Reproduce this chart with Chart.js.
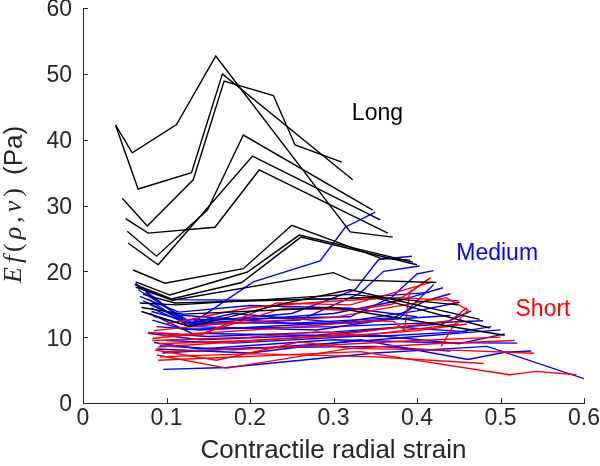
<!DOCTYPE html>
<html>
<head>
<meta charset="utf-8">
<script src="https://cdn.jsdelivr.net/npm/chart.js@4.4.1/dist/chart.umd.min.js"></script>
<style>
  html, body { margin: 0; padding: 0; background: #fff; }
</style>
</head>
<body>
<canvas id="chart" width="600" height="466"></canvas>
<script>
// Axis ticks
const xTicks = [0, 0.1, 0.2, 0.3, 0.4, 0.5, 0.6];
const xTickLabels = ['0', '0.1', '0.2', '0.3', '0.4', '0.5', '0.6'];
const yTicks = [0, 10, 20, 30, 40, 50, 60];
const yTickLabels = ['0', '10', '20', '30', '40', '50', '60'];

// Group names
const groupNames = ['Long', 'Medium', 'Short'];

// Each curve is a list of [contractile radial strain, E f(rho,v)] points
const longCurves = [
    [[0.039, 42.2], [0.059, 38.0], [0.112, 42.3], [0.159, 52.7], [0.320, 26.0], [0.371, 25.2]],
    [[0.039, 42.2], [0.066, 32.5], [0.130, 35.0], [0.167, 50.0], [0.323, 33.9]],
    [[0.047, 31.1], [0.077, 26.9], [0.132, 33.9], [0.169, 48.9], [0.228, 46.7], [0.254, 39.2], [0.310, 36.6]],
    [[0.051, 28.0], [0.078, 25.8], [0.158, 26.7], [0.211, 35.4], [0.365, 25.8]],
    [[0.053, 26.1], [0.088, 22.3], [0.149, 29.3], [0.192, 40.7], [0.347, 29.3]],
    [[0.054, 24.3], [0.090, 21.0], [0.203, 37.5], [0.356, 27.8]],
    [[0.060, 20.2], [0.098, 18.2], [0.192, 20.4], [0.250, 27.0], [0.356, 22.0], [0.392, 21.7]],
    [[0.063, 18.4], [0.104, 16.4], [0.197, 19.9], [0.259, 25.5], [0.395, 21.4]],
    [[0.062, 18.0], [0.106, 15.8], [0.190, 18.3], [0.261, 25.2], [0.400, 21.0]],
    [[0.063, 17.6], [0.107, 15.6], [0.300, 19.8], [0.320, 18.7], [0.423, 18.3]],
    [[0.068, 15.2], [0.112, 14.9], [0.320, 16.5], [0.449, 14.9]],
    [[0.070, 13.9], [0.128, 11.6], [0.244, 15.2], [0.320, 17.2], [0.475, 12.7]],
    [[0.070, 14.5], [0.120, 13.5], [0.300, 14.5], [0.505, 10.3]],
    [[0.072, 16.5], [0.110, 15.2], [0.350, 16.0], [0.487, 11.4]]
];

const mediumCurves = [
    [[0.063, 18.2], [0.128, 11.9], [0.204, 18.4], [0.284, 21.6], [0.314, 26.7], [0.350, 29.0]],
    [[0.096, 5.1], [0.172, 5.4], [0.350, 7.6], [0.484, 8.6], [0.600, 3.7]],
    [[0.088, 8.2], [0.200, 7.6], [0.332, 9.6], [0.461, 6.6], [0.505, 7.7], [0.537, 7.9]],
    [[0.085, 9.2], [0.140, 8.2], [0.300, 9.6], [0.420, 9.2], [0.520, 9.1]],
    [[0.075, 16.8], [0.125, 12.2], [0.250, 13.6], [0.326, 17.2], [0.354, 21.8], [0.394, 22.3]],
    [[0.078, 15.8], [0.125, 11.8], [0.260, 12.6], [0.332, 16.7], [0.360, 20.0], [0.403, 20.8]],
    [[0.080, 15.0], [0.130, 12.0], [0.300, 13.6], [0.380, 15.6], [0.431, 17.5]],
    [[0.082, 14.4], [0.122, 12.2], [0.300, 12.1], [0.400, 14.0], [0.451, 15.3]],
    [[0.084, 13.2], [0.130, 11.6], [0.280, 11.1], [0.370, 12.8], [0.410, 15.5], [0.440, 16.6]],
    [[0.083, 12.6], [0.120, 11.2], [0.300, 11.6], [0.479, 12.5]],
    [[0.080, 13.6], [0.130, 10.6], [0.350, 10.1], [0.450, 10.8], [0.489, 11.6]],
    [[0.065, 17.7], [0.107, 15.7], [0.200, 15.6], [0.320, 15.9], [0.415, 16.8]],
    [[0.090, 10.6], [0.150, 10.1], [0.300, 10.8], [0.430, 12.0], [0.465, 14.0]],
    [[0.100, 9.5], [0.180, 9.1], [0.350, 10.3], [0.450, 9.0], [0.505, 10.5]],
    [[0.068, 16.2], [0.115, 13.8], [0.200, 14.8], [0.320, 14.4], [0.400, 13.1]],
    [[0.072, 15.5], [0.110, 13.4], [0.250, 12.1], [0.380, 13.0], [0.420, 18.0]],
    [[0.088, 11.6], [0.140, 11.1], [0.320, 12.3], [0.440, 13.3]],
    [[0.066, 17.2], [0.130, 12.2], [0.180, 13.6], [0.320, 12.1], [0.370, 12.8]],
    [[0.095, 7.6], [0.200, 8.4], [0.350, 8.6], [0.440, 7.9]],
    [[0.092, 8.7], [0.180, 8.1], [0.300, 9.1], [0.400, 10.1], [0.500, 11.1]],
    [[0.082, 13.9], [0.120, 12.6], [0.320, 13.1], [0.370, 16.1], [0.400, 19.6], [0.420, 20.1]],
    [[0.078, 10.6], [0.140, 9.6], [0.280, 10.3], [0.380, 11.5], [0.460, 10.8]]
];

const shortCurves = [
    [[0.078, 10.7], [0.140, 10.3], [0.232, 15.2], [0.320, 14.9], [0.419, 18.4]],
    [[0.083, 9.8], [0.144, 10.6], [0.240, 14.4], [0.320, 14.1], [0.370, 15.0], [0.416, 19.0]],
    [[0.083, 9.5], [0.200, 10.0], [0.280, 10.8], [0.330, 10.3], [0.400, 11.0], [0.460, 12.0]],
    [[0.0865, 8.05], [0.160, 6.5], [0.260, 9.3], [0.320, 8.3], [0.450, 8.0], [0.540, 7.55]],
    [[0.0885, 7.3], [0.172, 5.3], [0.320, 8.3], [0.420, 9.0], [0.517, 9.5]],
    [[0.090, 6.5], [0.332, 7.8], [0.511, 4.3], [0.543, 4.8], [0.591, 4.3]],
    [[0.085, 11.0], [0.160, 12.0], [0.300, 13.0], [0.435, 16.0], [0.461, 14.1], [0.443, 11.6], [0.429, 8.6]],
    [[0.090, 9.0], [0.200, 9.5], [0.350, 10.5], [0.450, 12.0]],
    [[0.100, 7.8], [0.250, 8.5], [0.400, 9.5], [0.500, 10.0]],
    [[0.095, 10.2], [0.250, 11.5], [0.350, 12.5], [0.372, 12.4], [0.385, 11.1], [0.391, 16.7], [0.416, 19.0]],
    [[0.100, 12.0], [0.200, 14.5], [0.300, 15.5], [0.380, 16.0], [0.450, 15.5]],
    [[0.090, 8.5], [0.300, 10.3], [0.440, 12.5], [0.460, 14.5]],
    [[0.092, 7.0], [0.200, 7.5], [0.350, 7.0], [0.480, 6.0]]
];

const SANS = "'Liberation Sans', Arial, Helvetica, sans-serif";
const SERIF = "'Liberation Serif', 'Times New Roman', serif";
const AXIS_COLOR = '#262626';

// Turn a list of curves into line datasets of one colour
function makeDatasets(curves, color) {
    return curves.map(curve => ({
        data: curve.map(p => ({ x: p[0], y: p[1] })),
        borderColor: color,
        borderWidth: 1.4,
        pointRadius: 0,
        showLine: true,
        tension: 0,
        fill: false
    }));
}

// Ticks point into the plot, like the original figure
const inwardTicks = {
    id: 'inwardTicks',
    afterDatasetsDraw(chart) {
        const { ctx, chartArea, scales: { x, y } } = chart;
        ctx.save();
        ctx.strokeStyle = AXIS_COLOR;
        ctx.lineWidth = 1;
        ctx.beginPath();
        xTicks.forEach(v => {
            const px = Math.round(x.getPixelForValue(v)) + 0.5;
            ctx.moveTo(px, chartArea.bottom);
            ctx.lineTo(px, chartArea.bottom - 5);
        });
        yTicks.forEach(v => {
            const py = Math.round(y.getPixelForValue(v)) + 0.5;
            ctx.moveTo(chartArea.left, py);
            ctx.lineTo(chartArea.left + 5, py);
        });
        ctx.stroke();
        ctx.restore();
    }
};

// Group names written inside the plot
const groupText = {
    id: 'groupText',
    afterDatasetsDraw(chart) {
        const { ctx, scales: { x, y } } = chart;
        const spots = [[0.322, 43.0, '#000000'], [0.447, 21.7, '#0000ff'], [0.518, 13.2, '#ff0000']];
        ctx.save();
        ctx.font = '23px ' + SANS;
        ctx.textAlign = 'left';
        ctx.textBaseline = 'alphabetic';
        groupNames.forEach((name, i) => {
            ctx.fillStyle = spots[i][2];
            ctx.fillText(name, x.getPixelForValue(spots[i][0]), y.getPixelForValue(spots[i][1]));
        });
        ctx.restore();
    }
};

// Y axis title: E f(rho,v) in math italics, then (Pa)
const yTitle = {
    id: 'yTitle',
    afterDraw(chart) {
        const { ctx } = chart;
        const it = 'italic 26px ' + SERIF;
        const up = '26px ' + SERIF;
        const math = [['E', it], ['f', it], ['(', up], ['\u03C1', it], [',', up], ['v', it], [')', up]];
        ctx.save();
        ctx.translate(21, 283);
        ctx.rotate(-Math.PI / 2);
        ctx.fillStyle = AXIS_COLOR;
        ctx.textBaseline = 'alphabetic';
        let w = 0;
        math.forEach(([t, f]) => { ctx.font = f; w += ctx.measureText(t).width; });
        const gap = Math.max(0, (95 - w) / (math.length - 1));
        let pos = 0;
        math.forEach(([t, f]) => {
            ctx.font = f;
            ctx.fillText(t, pos, 0);
            pos += ctx.measureText(t).width + gap;
        });
        ctx.font = '26px ' + SANS;
        ctx.fillText('(Pa)', 108, 1);
        ctx.restore();
    }
};

const datasets = [
    ...makeDatasets(longCurves, '#000000'),
    ...makeDatasets(shortCurves, '#ff0000'),
    ...makeDatasets(mediumCurves, '#0000ff')
];

new Chart(document.getElementById('chart'), {
    type: 'scatter',
    data: { datasets },
    options: {
        responsive: false,
        animation: false,
        events: [],
        layout: { padding: { top: 8, right: 16, left: 0, bottom: 0 } },
        plugins: {
            legend: { display: false },
            tooltip: { enabled: false }
        },
        scales: {
            x: {
                type: 'linear',
                min: 0,
                max: 0.6,
                afterBuildTicks: s => { s.ticks = xTicks.map(v => ({ value: v })); },
                ticks: {
                    callback: (v, i) => xTickLabels[i],
                    color: AXIS_COLOR,
                    font: { family: SANS, size: 23 },
                    padding: 2,
                    maxRotation: 0,
                    autoSkip: false
                },
                grid: { display: false, drawTicks: false },
                border: { display: true, color: AXIS_COLOR, width: 1 },
                title: {
                    display: true,
                    text: 'Contractile radial strain',
                    color: AXIS_COLOR,
                    font: { family: SANS, size: 26 },
                    padding: { top: 0, bottom: 0 }
                },
                afterFit: s => {
                    s.height = 63;
                    s.paddingLeft = 0;
                    s.paddingRight = 0;
                }
            },
            y: {
                type: 'linear',
                min: 0,
                max: 60,
                afterBuildTicks: s => { s.ticks = yTicks.map(v => ({ value: v })); },
                ticks: {
                    callback: (v, i) => yTickLabels[i],
                    color: AXIS_COLOR,
                    font: { family: SANS, size: 23 },
                    padding: 11,
                    labelOffset: 2,
                    autoSkip: false
                },
                grid: { display: false, drawTicks: false },
                border: { display: true, color: AXIS_COLOR, width: 1 },
                afterFit: s => {
                    s.width = 83;
                    s.paddingTop = 0;
                    s.paddingBottom = 0;
                }
            }
        }
    },
    plugins: [inwardTicks, groupText, yTitle]
});
</script>
</body>
</html>
